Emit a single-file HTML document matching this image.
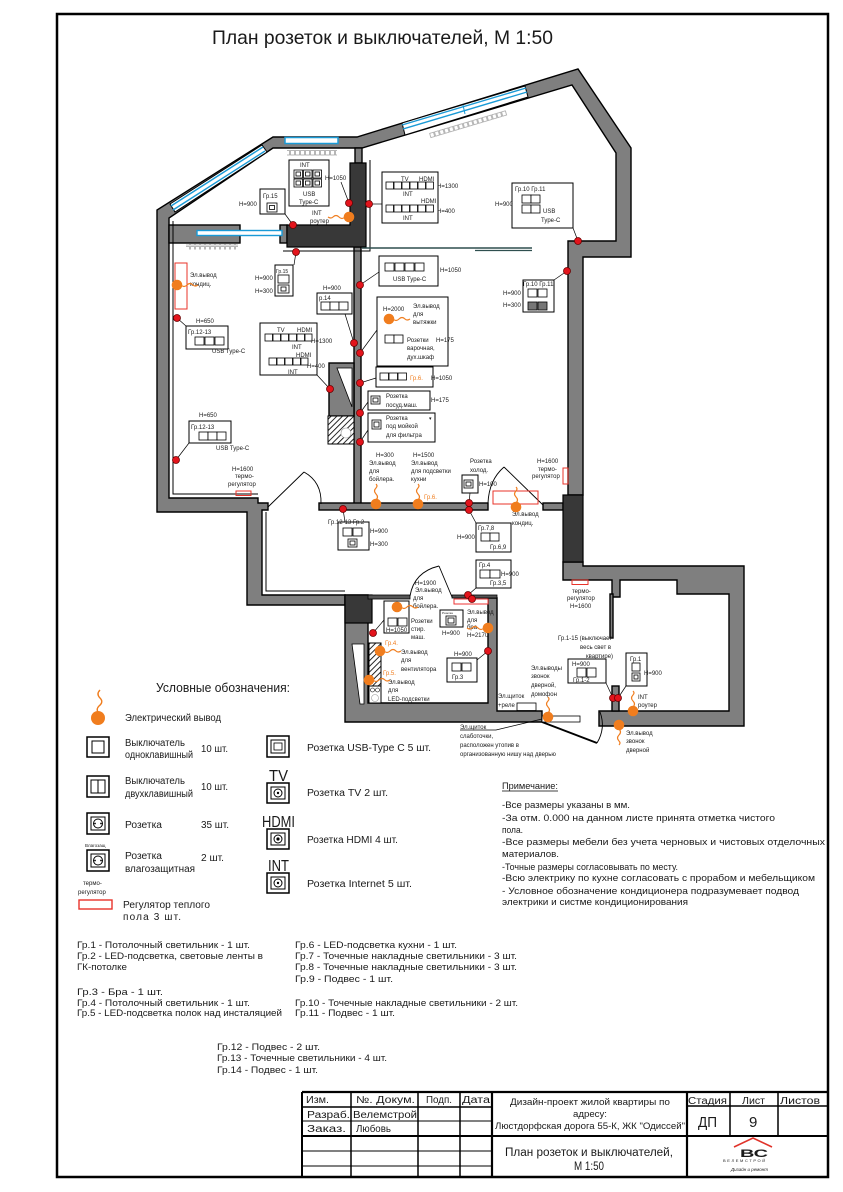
<!DOCTYPE html>
<html><head><meta charset="utf-8">
<style>
html,body{margin:0;padding:0;background:#fff;}
svg{display:block;}
text{font-family:"Liberation Sans","DejaVu Sans",sans-serif;fill:#1a1a1a;}
.p{font-size:6px;}
.ps{font-size:5px;}
.o{fill:#f07d1e;}
.l{font-size:10px;}
.n{font-size:9.6px;}
.g{font-size:9.4px;}
.tb{font-size:10px;}
.sk rect{fill:#fff;stroke:#000;stroke-width:.8;}
.bx{fill:#fff;stroke:#000;stroke-width:1;}
.ld{stroke:#000;stroke-width:.7;fill:none;}
.rd{fill:#e3141c;stroke:#6a0000;stroke-width:.8;}
</style></head><body>
<svg width="843" height="1192" viewBox="0 0 843 1192" xmlns="http://www.w3.org/2000/svg">
<defs>
<pattern id="hatch" width="4" height="4" patternUnits="userSpaceOnUse" patternTransform="rotate(45)"><rect width="4" height="4" fill="#fff"/><line x1="0" y1="0" x2="0" y2="4" stroke="#000" stroke-width="1.7"/></pattern>
<pattern id="rad" width="5" height="6" patternUnits="userSpaceOnUse"><rect x="0.5" y="0.5" width="4" height="4.5" fill="#fff" stroke="#999" stroke-width="0.7"/></pattern>
<symbol id="eoU" overflow="visible"><path d="M0,-4 q3,-3 0,-6 q-3,-3 0,-6 q2,-2 0,-4" fill="none" stroke="#f07d1e" stroke-width="1.2"/><circle r="5.3" fill="#f07d1e"/></symbol>
<symbol id="eoR" overflow="visible"><path d="M4,0 q3,3 6,0 q3,-3 6,0 q2,2 5,0" fill="none" stroke="#f07d1e" stroke-width="1.2"/><circle r="5.3" fill="#f07d1e"/></symbol>
<symbol id="eoL" overflow="visible"><path d="M-4,0 q-3,3 -6,0 q-3,-3 -6,0 q-2,2 -5,0" fill="none" stroke="#f07d1e" stroke-width="1.2"/><circle r="5.3" fill="#f07d1e"/></symbol>
<symbol id="eoD" overflow="visible"><path d="M0,4 q3,3 0,6 q-3,3 0,6 q2,2 0,4" fill="none" stroke="#f07d1e" stroke-width="1.2"/><circle r="5.3" fill="#f07d1e"/></symbol>
</defs>

<!-- Frame -->
<rect x="57" y="14" width="771" height="1163" fill="none" stroke="#000" stroke-width="2.5"/>

<!-- Title -->
<text x="212" y="44" font-size="19.5" textLength="341" lengthAdjust="spacingAndGlyphs">План розеток и выключателей, М 1:50</text>

<!-- ================= WALLS ================= -->
<g fill="#7f7f7f" stroke="#000" stroke-width="1.4" stroke-linejoin="miter">
<polygon points="157,512 157,210 273,137 357,137 578,69 631,148 631,257 583,257 583,495 568,495 568,241 616,241 616,153 572,85 362,148 273,148 169,218 169,498 258,498 258,503 268,503 268,510 262,510 262,595 345,595 345,605 247,605 247,512"/>
<polygon points="345,595 368,595 368,703 488,703 488,598 497,598 497,711 542,711 542,722 345,722"/>
<polygon points="563,562 583,562 583,566 744,566 744,726 599,726 599,711 729,711 729,594 677,594 677,580 620,580 620,597 612,597 612,580 563,580"/>
<rect x="354" y="247" width="7" height="258"/>
<rect x="319" y="503" width="169" height="7"/>
<rect x="543" y="503" width="20" height="7"/>
<rect x="169" y="225" width="71" height="18"/>
<rect x="280" y="225" width="7" height="18"/>
<rect x="355" y="148" width="7" height="15"/>
<rect x="329" y="363" width="25" height="53"/>
<rect x="612" y="686" width="7" height="25"/>
<rect x="610" y="594" width="3" height="44"/>
</g>
<!-- dark blocks -->
<g fill="#383838" stroke="#000" stroke-width="1.2">
<polygon points="350,163 366,163 366,247 287,247 287,225 350,225"/>
<rect x="563" y="495" width="20" height="67"/>
<rect x="345" y="595" width="27" height="28"/>
</g>
<!-- inner double lines -->
<g stroke="#000" stroke-width="1" fill="none">
<polyline points="173,221 173,494 258,494"/>
<polyline points="266,512 266,591 345,591"/>
<polyline points="283,251 370,251 370,160"/>
<line x1="362" y1="248" x2="532" y2="248" stroke="#2f4f4f" stroke-width="1.6"/>
<line x1="475" y1="250.5" x2="532" y2="250.5" stroke="#2f4f4f" stroke-width="1.2"/>
</g>
<!-- kitchen island details -->
<polygon points="337,368 352,368 352,407" fill="#fff" stroke="#000" stroke-width=".8"/>
<rect x="328" y="416" width="26" height="28" fill="url(#hatch)" stroke="#000" stroke-width="1"/>
<circle cx="346" cy="433" r="5" fill="#fff" stroke="#999" stroke-width=".6"/>
<!-- bathroom details -->
<polygon points="352,644 364,644 364,704 360,704" fill="#fff" stroke="#000" stroke-width=".8"/>
<rect x="369" y="643" width="12" height="43" fill="url(#hatch)" stroke="#000" stroke-width="1"/>
<rect x="369" y="686" width="12" height="17" fill="#fff" stroke="#000" stroke-width="1"/>
<circle cx="372.5" cy="690" r="2" fill="none" stroke="#000" stroke-width=".6"/>
<circle cx="377.5" cy="690" r="2" fill="none" stroke="#000" stroke-width=".6"/>
<circle cx="375" cy="698" r="3.5" fill="#fff" stroke="#999" stroke-width=".6"/>
<rect x="368" y="595" width="42" height="4" fill="#555" stroke="#000" stroke-width=".8"/>
<rect x="452" y="595" width="45" height="3" fill="#555" stroke="#000" stroke-width=".8"/>
<rect x="454" y="599" width="34" height="5" fill="#fff" stroke="#e33" stroke-width="1"/>

<!-- ================= WINDOWS ================= -->
<g stroke-linejoin="miter">
<polygon points="170,204 262,145 267,152 175,212" fill="#fff" stroke="#000" stroke-width="1"/>
<line x1="171" y1="206" x2="263" y2="147" stroke="#1a9ad6" stroke-width="1.4"/>
<line x1="173" y1="210" x2="265" y2="151" stroke="#1a9ad6" stroke-width="1.4"/>
<rect x="285" y="137.5" width="53" height="6" fill="#fff" stroke="#1a9ad6" stroke-width="1.5"/>
<line x1="285" y1="148" x2="338" y2="148" stroke="#000" stroke-width="1"/>
<polygon points="402,123 525,86 528,97 405,135" fill="#fff" stroke="#000" stroke-width="1"/>
<line x1="402" y1="125" x2="526" y2="88" stroke="#1a9ad6" stroke-width="1.4"/>
<line x1="403" y1="129" x2="527" y2="92" stroke="#1a9ad6" stroke-width="1.4"/>
<line x1="463" y1="105" x2="465" y2="114" stroke="#1a9ad6" stroke-width="1"/>
<rect x="197" y="230.5" width="85" height="5" fill="#fff" stroke="#1a9ad6" stroke-width="1.4"/>
</g>
<!-- radiators -->
<rect x="287" y="150" width="50" height="5.5" fill="url(#rad)"/>
<rect x="186" y="244" width="52" height="5.5" fill="url(#rad)"/>
<g transform="translate(429,133) rotate(-16.6)"><rect x="0" y="0" width="80" height="5.5" fill="url(#rad)"/></g>

<!-- ================= DOORS ================= -->
<g stroke="#000" stroke-width=".9" fill="none">
<line x1="268" y1="507" x2="304" y2="472"/>
<path d="M304,472 Q322,482 321,504"/>
<line x1="543" y1="505" x2="504" y2="467"/>
<path d="M504,467 Q489,480 488,503"/>
<line x1="452" y1="597" x2="439" y2="566"/>
<path d="M439,566 Q414,572 410,596"/>
<line x1="542" y1="722" x2="597" y2="743" stroke-width="2"/>
<path d="M597,743 Q606,728 600,712"/>
</g>
<rect x="542" y="716" width="38" height="6" fill="#fff" stroke="#000" stroke-width=".8"/>
<rect x="517" y="703" width="19" height="7.5" fill="#fff" stroke="#000" stroke-width=".8"/>

<!-- red thermo/kondic rects -->
<g fill="none" stroke="#e8332a" stroke-width="1">
<rect x="175" y="263" width="12" height="46"/>
<rect x="236" y="491" width="15" height="4.5"/>
<rect x="563" y="468" width="5" height="16"/>
<rect x="493" y="491" width="45" height="13"/>
<rect x="572" y="580" width="16" height="4.5"/>
</g>

<!-- ================= BOXES ================= -->
<g class="bx">
<rect x="289" y="160" width="40" height="46"/>
<rect x="260" y="189" width="25" height="25"/>
<rect x="382" y="172" width="56" height="51"/>
<rect x="512" y="183" width="61" height="45"/>
<rect x="275" y="265" width="18" height="31"/>
<rect x="379" y="256" width="59" height="30"/>
<rect x="186" y="326" width="42" height="23"/>
<rect x="189" y="421" width="42" height="22"/>
<rect x="317" y="293" width="35" height="21"/>
<rect x="260" y="323" width="57" height="52"/>
<rect x="377" y="297" width="71" height="69"/>
<rect x="376" y="367" width="57" height="20"/>
<rect x="368" y="391" width="62" height="19"/>
<rect x="368" y="413" width="67" height="29"/>
<rect x="462" y="475" width="16" height="18"/>
<rect x="338" y="522" width="31" height="28"/>
<rect x="476" y="523" width="35" height="29"/>
<rect x="476" y="560" width="35" height="28"/>
<rect x="384" y="601" width="25" height="32"/>
<rect x="440" y="610" width="23" height="17"/>
<rect x="447" y="658" width="30" height="24"/>
<rect x="568" y="659" width="38" height="24"/>
<rect x="626" y="653" width="21" height="33"/>
<rect x="523" y="280" width="31" height="32"/>
</g>

<!-- socket squares -->
<g class="sk">
<rect x="294" y="170" width="8.5" height="8"/><rect x="303.5" y="170" width="8.5" height="8"/><rect x="313" y="170" width="8.5" height="8"/>
<rect x="294" y="179" width="8.5" height="8"/><rect x="303.5" y="179" width="8.5" height="8"/><rect x="313" y="179" width="8.5" height="8"/>
<rect x="296" y="172" width="4.5" height="4"/><rect x="305.5" y="172" width="4.5" height="4"/><rect x="315" y="172" width="4.5" height="4"/>
<rect x="296" y="181" width="4.5" height="4"/><rect x="305.5" y="181" width="4.5" height="4"/><rect x="315" y="181" width="4.5" height="4"/>
<rect x="267" y="203" width="10" height="9"/><rect x="269.5" y="205.5" width="5" height="4"/>
<rect x="386" y="182" width="7.5" height="7"/><rect x="394" y="182" width="7.5" height="7"/><rect x="402" y="182" width="7.5" height="7"/><rect x="410" y="182" width="7.5" height="7"/><rect x="418" y="182" width="7.5" height="7"/><rect x="426" y="182" width="7.5" height="7"/>
<rect x="386" y="205" width="7.5" height="7"/><rect x="394" y="205" width="7.5" height="7"/><rect x="402" y="205" width="7.5" height="7"/><rect x="410" y="205" width="7.5" height="7"/><rect x="418" y="205" width="7.5" height="7"/><rect x="426" y="205" width="7.5" height="7"/>
<rect x="522" y="195" width="9" height="8"/><rect x="531" y="195" width="9" height="8"/><rect x="522" y="205" width="9" height="8"/><rect x="531" y="205" width="9" height="8"/>
<rect x="278" y="275" width="11" height="8"/><rect x="278" y="285" width="11" height="8"/><rect x="281" y="287" width="5" height="4"/>
<rect x="385" y="263" width="9" height="8"/><rect x="395" y="263" width="9" height="8"/><rect x="405" y="263" width="9" height="8"/><rect x="415" y="263" width="9" height="8"/>
<rect x="195" y="337" width="9" height="8"/><rect x="205" y="337" width="9" height="8"/><rect x="215" y="337" width="9" height="8"/>
<rect x="199" y="432" width="9" height="8"/><rect x="208" y="432" width="9" height="8"/><rect x="217" y="432" width="9" height="8"/>
<rect x="321" y="302" width="9" height="8"/><rect x="330" y="302" width="9" height="8"/><rect x="339" y="302" width="9" height="8"/>
<rect x="265" y="334" width="7.5" height="7"/><rect x="273" y="334" width="7.5" height="7"/><rect x="281" y="334" width="7.5" height="7"/><rect x="289" y="334" width="7.5" height="7"/><rect x="297" y="334" width="7.5" height="7"/><rect x="305" y="334" width="7" height="7"/>
<rect x="269" y="358" width="7.5" height="7"/><rect x="277" y="358" width="7.5" height="7"/><rect x="285" y="358" width="7.5" height="7"/><rect x="293" y="358" width="7.5" height="7"/><rect x="301" y="358" width="7" height="7"/>
<rect x="385" y="335" width="9" height="8"/><rect x="394" y="335" width="9" height="8"/>
<rect x="380" y="373" width="8.5" height="7"/><rect x="389" y="373" width="8.5" height="7"/><rect x="398" y="373" width="8.5" height="7"/>
<rect x="371" y="396" width="9" height="8"/><rect x="373" y="398" width="5" height="4"/>
<rect x="372" y="420" width="9" height="9"/><rect x="374" y="422" width="5" height="5"/>
<rect x="464" y="480" width="9" height="8"/><rect x="466" y="482" width="5" height="4"/>
<rect x="343" y="528" width="9" height="8"/><rect x="353" y="528" width="9" height="8"/><rect x="348" y="539" width="9" height="8"/><rect x="350" y="541" width="5" height="4"/>
<rect x="481" y="533" width="9" height="8"/><rect x="490" y="533" width="9" height="8"/>
<rect x="480" y="570" width="10" height="8"/><rect x="490" y="570" width="10" height="8"/>
<rect x="388" y="618" width="9" height="8"/><rect x="398" y="618" width="9" height="8"/>
<rect x="446" y="616" width="10" height="9"/><rect x="448" y="618" width="6" height="5"/>
<rect x="452" y="663" width="9" height="8"/><rect x="462" y="663" width="9" height="8"/>
<rect x="577" y="668" width="9" height="9"/><rect x="587" y="668" width="9" height="9"/>
<rect x="632" y="663" width="8" height="8"/><rect x="632" y="673" width="8" height="8"/><rect x="634" y="675" width="4" height="4"/>
<rect x="528" y="289" width="9" height="8"/><rect x="538" y="289" width="9" height="8"/>
</g>
<rect x="528" y="302" width="9" height="8" fill="#777" stroke="#000" stroke-width=".8"/>
<rect x="538" y="302" width="9" height="8" fill="#777" stroke="#000" stroke-width=".8"/>

<!-- leader lines -->
<g class="ld">
<line x1="349" y1="203" x2="341" y2="182"/>
<line x1="293" y1="225" x2="285" y2="214"/>
<line x1="369" y1="204" x2="382" y2="204"/>
<line x1="296" y1="252" x2="294" y2="265"/>
<line x1="578" y1="241" x2="573" y2="228"/>
<line x1="567" y1="271" x2="554" y2="280"/>
<line x1="177" y1="318" x2="186" y2="326"/>
<line x1="176" y1="460" x2="189" y2="443"/>
<line x1="360" y1="285" x2="379" y2="272"/>
<line x1="354" y1="343" x2="345" y2="314"/>
<line x1="360" y1="353" x2="377" y2="330"/>
<line x1="330" y1="389" x2="317" y2="375"/>
<line x1="360" y1="383" x2="376" y2="378"/>
<line x1="360" y1="413" x2="368" y2="402"/>
<line x1="360" y1="442" x2="368" y2="430"/>
<line x1="343" y1="509" x2="345" y2="522"/>
<line x1="469" y1="510" x2="476" y2="523"/>
<line x1="469" y1="503" x2="470" y2="493"/>
<line x1="468" y1="595" x2="476" y2="588"/>
<line x1="373" y1="633" x2="384" y2="620"/>
<line x1="488" y1="651" x2="477" y2="660"/>
<line x1="613" y1="698" x2="606" y2="683"/>
<line x1="618" y1="698" x2="626" y2="686"/>
<line x1="460" y1="730" x2="496" y2="730"/>
<line x1="496" y1="730" x2="542" y2="719"/>
</g>

<!-- ================= PLAN TEXT ================= -->
<g class="p">
<text x="300" y="167">INT</text>
<text x="303" y="196">USB</text>
<text x="299" y="204">Type-C</text>
<text x="325" y="180">H=1050</text>
<text x="263" y="198">Гр.15</text>
<text x="239" y="206">H=900</text>
<text x="312" y="215">INT</text>
<text x="310" y="223">роутер</text>
<text x="401" y="181">TV</text><text x="419" y="181">HDMI</text>
<text x="403" y="196">INT</text>
<text x="421" y="203">HDMI</text>
<text x="403" y="220">INT</text>
<text x="437" y="188">H=1300</text>
<text x="437" y="213">H=400</text>
<text x="515" y="191">Гр.10 Гр.11</text>
<text x="543" y="213">USB</text>
<text x="541" y="222">Type-C</text>
<text x="495" y="206">H=900</text>
<text x="276" y="273" class="ps">Гр.15</text>
<text x="255" y="280">H=900</text>
<text x="255" y="293">H=300</text>
<text x="393" y="281">USB Type-C</text>
<text x="440" y="272">H=1050</text>
<text x="188" y="334">Гр.12-13</text>
<text x="212" y="353">USB Type-C</text>
<text x="196" y="323">H=650</text>
<text x="191" y="429">Гр.12-13</text>
<text x="216" y="450">USB Type-C</text>
<text x="199" y="417">H=650</text>
<text x="319" y="300">р.14</text>
<text x="323" y="290">H=900</text>
<text x="277" y="332">TV</text><text x="297" y="332">HDMI</text>
<text x="311" y="343">H=1300</text>
<text x="292" y="349">INT</text>
<text x="296" y="357">HDMI</text>
<text x="307" y="368">H=400</text>
<text x="288" y="374">INT</text>
<text x="383" y="311">H=2000</text>
<text x="413" y="308">Эл.вывод</text>
<text x="413" y="316">для</text>
<text x="413" y="324">вытяжки</text>
<text x="407" y="342">Розетки</text>
<text x="407" y="350">варочная,</text>
<text x="407" y="359">дух.шкаф</text>
<text x="436" y="342">H=175</text>
<text x="410" y="380" class="o">Гр.6.</text>
<text x="431" y="380">H=1050</text>
<text x="386" y="398">Розетка</text>
<text x="386" y="407">посуд.маш.</text>
<text x="431" y="402">H=175</text>
<text x="386" y="420">Розетка</text>
<text x="386" y="428">под мойкой</text>
<text x="386" y="437">для фильтра</text>
<text x="429" y="420" class="ps">▾</text>
<text x="376" y="457">H=300</text>
<text x="369" y="465">Эл.вывод</text>
<text x="369" y="473">для</text>
<text x="369" y="481">бойлера.</text>
<text x="413" y="457">H=1500</text>
<text x="411" y="465">Эл.вывод</text>
<text x="411" y="473">для подсветки</text>
<text x="411" y="481">кухни</text>
<text x="424" y="499" class="o">Гр.6.</text>
<text x="470" y="463">Розетка</text>
<text x="470" y="472">холод.</text>
<text x="479" y="486">H=100</text>
<text x="537" y="463">H=1600</text>
<text x="538" y="471">термо-</text>
<text x="532" y="478">регулятор</text>
<text x="512" y="516">Эл.вывод</text>
<text x="512" y="525">кондиц.</text>
<text x="190" y="277">Эл.вывод</text>
<text x="190" y="286">кондиц.</text>
<text x="232" y="471">H=1600</text>
<text x="235" y="478">термо-</text>
<text x="228" y="486">регулятор</text>
<text x="328" y="524">Гр.12-13 Гр.2</text>
<text x="370" y="533">H=900</text>
<text x="370" y="546">H=300</text>
<text x="478" y="530">Гр.7,8</text>
<text x="490" y="549">Гр.6,9</text>
<text x="457" y="539">H=900</text>
<text x="479" y="567">Гр.4</text>
<text x="501" y="576">H=900</text>
<text x="490" y="585">Гр.3,5</text>
<text x="415" y="585">H=1900</text>
<text x="415" y="592">Эл.вывод</text>
<text x="413" y="600">для</text>
<text x="413" y="608">бойлера.</text>
<text x="386" y="632">H=1050</text>
<text x="411" y="623">Розетки</text>
<text x="411" y="631">стир.</text>
<text x="411" y="639">маш.</text>
<text x="442" y="614" font-size="3">Розетка</text>
<text x="442" y="635">H=900</text>
<text x="467" y="614">Эл.вывод</text>
<text x="467" y="622">для</text>
<text x="467" y="629">бра</text>
<text x="467" y="637">H=2170</text>
<text x="454" y="656">H=900</text>
<text x="452" y="679">Гр.3</text>
<text x="385" y="645" class="o">Гр.4.</text>
<text x="401" y="654">Эл.вывод</text>
<text x="401" y="662">для</text>
<text x="401" y="671">вентилятора</text>
<text x="383" y="675" class="o">Гр.5.</text>
<text x="388" y="684">Эл.вывод</text>
<text x="388" y="692">для</text>
<text x="388" y="701">LED-подсветки</text>
<text x="498" y="698">Эл.щиток</text>
<text x="498" y="707">+реле</text>
<text x="531" y="670">Эл.выводы</text>
<text x="531" y="678">звонок</text>
<text x="531" y="687">дверной,</text>
<text x="531" y="696">домофон</text>
<text x="460" y="729">Эл.щиток</text>
<text x="460" y="738">слаботочки,</text>
<text x="460" y="747">расположен утопив в</text>
<text x="460" y="756">организованную нишу над дверью</text>
<text x="558" y="640">Гр.1-15 (выключает</text>
<text x="580" y="649">весь свет в</text>
<text x="586" y="658">квартире)</text>
<text x="572" y="666">H=900</text>
<text x="573" y="682">Гр.1-2</text>
<text x="630" y="661">Гр.1</text>
<text x="644" y="675">H=900</text>
<text x="638" y="699">INT</text>
<text x="638" y="707">роутер</text>
<text x="626" y="735">Эл.вывод</text>
<text x="626" y="743">звонок</text>
<text x="626" y="752">дверной</text>
<text x="572" y="593">термо-</text>
<text x="567" y="600">регулятор</text>
<text x="570" y="608">H=1600</text>
<text x="523" y="286">Гр.10 Гр.11</text>
<text x="503" y="295">H=900</text>
<text x="503" y="307">H=300</text>
</g>

<!-- orange outlets -->
<use href="#eoR" x="177" y="285"/>
<use href="#eoL" x="349" y="217"/>
<use href="#eoR" x="389" y="319"/>
<use href="#eoU" x="376" y="504"/>
<use href="#eoU" x="418" y="504"/>
<use href="#eoU" x="516" y="507"/>
<use href="#eoR" x="397" y="607"/>
<use href="#eoL" x="488" y="628"/>
<use href="#eoR" x="380" y="651"/>
<use href="#eoR" x="369" y="680"/>
<use href="#eoU" x="548" y="717"/>
<use href="#eoU" x="633" y="711"/>
<use href="#eoD" x="619" y="725"/>

<!-- red dots -->
<g class="rd">
<circle cx="349" cy="203" r="3.5"/><circle cx="369" cy="204" r="3.5"/><circle cx="293" cy="225" r="3.5"/><circle cx="296" cy="252" r="3.5"/>
<circle cx="578" cy="241" r="3.5"/><circle cx="567" cy="271" r="3.5"/><circle cx="177" cy="318" r="3.5"/><circle cx="176" cy="460" r="3.5"/>
<circle cx="360" cy="285" r="3.5"/><circle cx="354" cy="343" r="3.5"/><circle cx="360" cy="353" r="3.5"/><circle cx="330" cy="389" r="3.5"/>
<circle cx="360" cy="383" r="3.5"/><circle cx="360" cy="413" r="3.5"/><circle cx="360" cy="442" r="3.5"/><circle cx="343" cy="509" r="3.5"/>
<circle cx="469" cy="503" r="3.5"/><circle cx="469" cy="510" r="3.5"/><circle cx="468" cy="595" r="3.5"/><circle cx="472" cy="599" r="3.5"/>
<circle cx="373" cy="633" r="3.5"/><circle cx="488" cy="651" r="3.5"/><circle cx="613" cy="698" r="3.5"/><circle cx="618" cy="698" r="3.5"/>
</g>

<!-- ================= LEGEND ================= -->
<text x="156" y="692" font-size="13" textLength="134" lengthAdjust="spacingAndGlyphs">Условные обозначения:</text>
<path d="M100,690 q-4,4 0,8 q4,4 -1,8 q-3,3 -1,6" fill="none" stroke="#f07d1e" stroke-width="1.4"/>
<circle cx="98" cy="718" r="7" fill="#f07d1e"/>
<text class="l" x="125" y="721" textLength="96" lengthAdjust="spacingAndGlyphs">Электрический вывод</text>

<g fill="#fff" stroke="#000">
<rect x="87" y="737" width="22" height="20" stroke-width="1.5"/>
<rect x="92" y="741" width="12" height="12" stroke-width="1"/>
<rect x="87" y="776" width="22" height="21" stroke-width="1.5"/>
<rect x="91" y="780" width="14" height="13" stroke-width="1"/>
<line x1="98" y1="780" x2="98" y2="793" stroke-width="1"/>
<rect x="87" y="813" width="22" height="21" stroke-width="1.5"/>
<rect x="91" y="817" width="14" height="13" stroke-width="1"/>
<circle cx="98" cy="823.5" r="4.5" stroke-width="1"/>
<rect x="87" y="850" width="22" height="21" stroke-width="1.5"/>
<rect x="91" y="854" width="14" height="13" stroke-width="1"/>
<circle cx="98" cy="860.5" r="4.5" stroke-width="1"/>
<rect x="267" y="736" width="22" height="21" stroke-width="1.5"/>
<rect x="271" y="740" width="14" height="13" stroke-width="1"/>
<rect x="274" y="743" width="8" height="7" stroke-width=".8"/>
<rect x="267" y="783" width="22" height="20" stroke-width="1.5"/>
<rect x="271" y="787" width="14" height="12" stroke-width="1"/>
<circle cx="278" cy="793" r="4" stroke-width="1"/>
<rect x="267" y="829" width="22" height="20" stroke-width="1.5"/>
<rect x="271" y="833" width="14" height="12" stroke-width="1"/>
<circle cx="278" cy="839" r="4" stroke-width="1"/>
<rect x="267" y="873" width="22" height="20" stroke-width="1.5"/>
<rect x="271" y="877" width="14" height="12" stroke-width="1"/>
<circle cx="278" cy="883" r="4" stroke-width="1"/>
</g>
<g fill="#000"><circle cx="95" cy="823.5" r=".9"/><circle cx="101" cy="823.5" r=".9"/><circle cx="95" cy="860.5" r=".9"/><circle cx="101" cy="860.5" r=".9"/><circle cx="278" cy="793" r="1.2"/><circle cx="278" cy="839" r="1.6"/><circle cx="278" cy="883" r="1.2"/></g>

<text class="l" x="125" y="746" textLength="60" lengthAdjust="spacingAndGlyphs">Выключатель</text>
<text class="l" x="125" y="758" textLength="68" lengthAdjust="spacingAndGlyphs">одноклавишный</text>
<text class="l" x="201" y="752" textLength="27" lengthAdjust="spacingAndGlyphs">10 шт.</text>
<text class="l" x="125" y="784" textLength="60" lengthAdjust="spacingAndGlyphs">Выключатель</text>
<text class="l" x="125" y="797" textLength="68" lengthAdjust="spacingAndGlyphs">двухклавишный</text>
<text class="l" x="201" y="790" textLength="27" lengthAdjust="spacingAndGlyphs">10 шт.</text>
<text class="l" x="125" y="828" textLength="37" lengthAdjust="spacingAndGlyphs">Розетка</text>
<text class="l" x="201" y="828" textLength="28" lengthAdjust="spacingAndGlyphs">35 шт.</text>
<text x="85" y="847" font-size="4.5">Влагозащ</text>
<text class="l" x="125" y="859" textLength="37" lengthAdjust="spacingAndGlyphs">Розетка</text>
<text class="l" x="125" y="872" textLength="70" lengthAdjust="spacingAndGlyphs">влагозащитная</text>
<text class="l" x="201" y="861" textLength="23" lengthAdjust="spacingAndGlyphs">2 шт.</text>
<text x="83" y="885" font-size="6">термо-</text>
<text x="78" y="894" font-size="6">регулятор</text>
<rect x="79" y="900" width="33" height="9" fill="#fff" stroke="#e8332a" stroke-width="1.4"/>
<text class="l" x="123" y="908" textLength="87" lengthAdjust="spacingAndGlyphs">Регулятор теплого</text>
<text class="l" x="123" y="920" textLength="58">пола   3 шт.</text>

<text x="269" y="781" font-size="16" textLength="19" lengthAdjust="spacingAndGlyphs">TV</text>
<text x="262" y="827" font-size="16" textLength="33" lengthAdjust="spacingAndGlyphs">HDMI</text>
<text x="268" y="871" font-size="16" textLength="21" lengthAdjust="spacingAndGlyphs">INT</text>
<text class="l" x="307" y="751" textLength="124" lengthAdjust="spacingAndGlyphs">Розетка USB-Type C  5 шт.</text>
<text class="l" x="307" y="796" textLength="81" lengthAdjust="spacingAndGlyphs">Розетка TV 2 шт.</text>
<text class="l" x="307" y="843" textLength="91" lengthAdjust="spacingAndGlyphs">Розетка HDMI 4 шт.</text>
<text class="l" x="307" y="887" textLength="105" lengthAdjust="spacingAndGlyphs">Розетка Internet 5 шт.</text>

<!-- ================= NOTES ================= -->
<text class="n" x="502" y="789" textLength="56" lengthAdjust="spacingAndGlyphs">Примечание:</text>
<line x1="502" y1="791" x2="558" y2="791" stroke="#000" stroke-width=".8"/>
<text class="n" x="502" y="808" textLength="128" lengthAdjust="spacingAndGlyphs">-Все размеры указаны в мм.</text>
<text class="n" x="502" y="821" textLength="273" lengthAdjust="spacingAndGlyphs">-За отм. 0.000 на данном листе принята отметка чистого</text>
<text class="n" x="502" y="833" textLength="21" lengthAdjust="spacingAndGlyphs">пола.</text>
<text class="n" x="502" y="845" textLength="323" lengthAdjust="spacingAndGlyphs">-Все размеры мебели без учета  черновых и чистовых отделочных</text>
<text class="n" x="502" y="857" textLength="57" lengthAdjust="spacingAndGlyphs">материалов.</text>
<text class="n" x="502" y="870" textLength="176" lengthAdjust="spacingAndGlyphs">-Точные размеры согласовывать по месту.</text>
<text class="n" x="502" y="881" textLength="313" lengthAdjust="spacingAndGlyphs">-Всю электрику по кухне согласовать с прорабом и мебельщиком</text>
<text class="n" x="502" y="894" textLength="297" lengthAdjust="spacingAndGlyphs">- Условное обозначение кондиционера подразумевает подвод</text>
<text class="n" x="502" y="905" textLength="186" lengthAdjust="spacingAndGlyphs">электрики и систме кондиционирования</text>

<!-- ================= GROUPS ================= -->
<text class="g" x="77" y="948" textLength="173" lengthAdjust="spacingAndGlyphs">Гр.1 - Потолочный светильник - 1 шт.</text>
<text class="g" x="77" y="959" textLength="186" lengthAdjust="spacingAndGlyphs">Гр.2 - LED-подсветка, световые ленты в</text>
<text class="g" x="77" y="970" textLength="50" lengthAdjust="spacingAndGlyphs">ГК-потолке</text>
<text class="g" x="77" y="995" textLength="86" lengthAdjust="spacingAndGlyphs">Гр.3 - Бра   - 1 шт.</text>
<text class="g" x="77" y="1006" textLength="173" lengthAdjust="spacingAndGlyphs">Гр.4 - Потолочный светильник - 1 шт.</text>
<text class="g" x="77" y="1016" textLength="205" lengthAdjust="spacingAndGlyphs">Гр.5 - LED-подсветка полок над инсталяцией</text>
<text class="g" x="295" y="948" textLength="162" lengthAdjust="spacingAndGlyphs">Гр.6 - LED-подсветка кухни - 1 шт.</text>
<text class="g" x="295" y="959" textLength="222" lengthAdjust="spacingAndGlyphs">Гр.7 - Точечные накладные светильники - 3 шт.</text>
<text class="g" x="295" y="970" textLength="222" lengthAdjust="spacingAndGlyphs">Гр.8 - Точечные накладные светильники - 3 шт.</text>
<text class="g" x="295" y="982" textLength="98" lengthAdjust="spacingAndGlyphs">Гр.9 - Подвес - 1 шт.</text>
<text class="g" x="295" y="1006" textLength="223" lengthAdjust="spacingAndGlyphs">Гр.10 - Точечные накладные светильники - 2 шт.</text>
<text class="g" x="295" y="1016" textLength="100" lengthAdjust="spacingAndGlyphs">Гр.11 - Подвес - 1 шт.</text>
<text class="g" x="217" y="1050" textLength="103" lengthAdjust="spacingAndGlyphs">Гр.12 - Подвес - 2 шт.</text>
<text class="g" x="217" y="1061" textLength="170" lengthAdjust="spacingAndGlyphs">Гр.13 - Точечные светильники - 4 шт.</text>
<text class="g" x="217" y="1073" textLength="101" lengthAdjust="spacingAndGlyphs">Гр.14 - Подвес - 1 шт.</text>

<!-- ================= TITLE BLOCK ================= -->
<g stroke="#000" fill="none">
<line x1="302" y1="1092" x2="828" y2="1092" stroke-width="2.2"/>
<line x1="302" y1="1092" x2="302" y2="1177" stroke-width="2"/>
<line x1="351" y1="1092" x2="351" y2="1177" stroke-width="1.5"/>
<line x1="418" y1="1092" x2="418" y2="1177" stroke-width="1.5"/>
<line x1="460" y1="1092" x2="460" y2="1177" stroke-width="1.5"/>
<line x1="492" y1="1092" x2="492" y2="1177" stroke-width="2.2"/>
<line x1="687" y1="1092" x2="687" y2="1177" stroke-width="2.2"/>
<line x1="730" y1="1092" x2="730" y2="1136" stroke-width="1.5"/>
<line x1="778" y1="1092" x2="778" y2="1136" stroke-width="1.5"/>
<line x1="302" y1="1107" x2="492" y2="1107" stroke-width="1.5"/>
<line x1="687" y1="1106" x2="828" y2="1106" stroke-width="1.5"/>
<line x1="302" y1="1121" x2="492" y2="1121" stroke-width="1"/>
<line x1="302" y1="1136" x2="828" y2="1136" stroke-width="2"/>
<line x1="302" y1="1151" x2="492" y2="1151" stroke-width="1"/>
<line x1="302" y1="1166" x2="492" y2="1166" stroke-width="1"/>
</g>
<text class="tb" x="306" y="1103" textLength="23" lengthAdjust="spacingAndGlyphs">Изм.</text>
<text class="tb" x="356" y="1103" textLength="59" lengthAdjust="spacingAndGlyphs">№. Докум.</text>
<text class="tb" x="426" y="1103" textLength="26" lengthAdjust="spacingAndGlyphs">Подп.</text>
<text class="tb" x="462" y="1103" textLength="28" lengthAdjust="spacingAndGlyphs">Дата</text>
<text class="tb" x="307" y="1118" textLength="43" lengthAdjust="spacingAndGlyphs">Разраб.</text>
<text class="tb" x="353" y="1118" textLength="64" lengthAdjust="spacingAndGlyphs">Велемстрой</text>
<text class="tb" x="307" y="1132" textLength="39" lengthAdjust="spacingAndGlyphs">Заказ.</text>
<text class="tb" x="356" y="1132" textLength="35" lengthAdjust="spacingAndGlyphs">Любовь</text>
<text x="510" y="1105" font-size="8.8" textLength="160" lengthAdjust="spacingAndGlyphs">Дизайн-проект жилой квартиры по</text>
<text x="573" y="1117" font-size="8.8" textLength="34" lengthAdjust="spacingAndGlyphs">адресу:</text>
<text x="495" y="1129" font-size="8.8" textLength="190" lengthAdjust="spacingAndGlyphs">Люстдорфская дорога 55-К, ЖК "Одиссей"</text>
<text x="505" y="1156" font-size="11.5" textLength="168" lengthAdjust="spacingAndGlyphs">План розеток и выключателей,</text>
<text x="574" y="1170" font-size="11.5" textLength="30" lengthAdjust="spacingAndGlyphs">М 1:50</text>
<text class="tb" x="688" y="1104" textLength="39" lengthAdjust="spacingAndGlyphs">Стадия</text>
<text class="tb" x="742" y="1104" textLength="23" lengthAdjust="spacingAndGlyphs">Лист</text>
<text class="tb" x="780" y="1104" textLength="40" lengthAdjust="spacingAndGlyphs">Листов</text>
<text x="698" y="1127" font-size="15" textLength="19" lengthAdjust="spacingAndGlyphs">ДП</text>
<text x="749" y="1127" font-size="15">9</text>
<!-- logo -->
<polyline points="734,1147 753,1138 772,1147" fill="none" stroke="#e0332a" stroke-width="1.6"/>
<text x="740" y="1157" font-size="11" font-weight="bold" fill="#444" textLength="28" lengthAdjust="spacingAndGlyphs">ВС</text>
<text x="723" y="1162" font-size="4" letter-spacing="1.6" fill="#333">ВЕЛЕМСТРОЙ</text>
<text x="731" y="1171" font-size="4.5" font-style="italic" fill="#d8262a">Дизайн и ремонт</text>
</svg>
</body></html>
